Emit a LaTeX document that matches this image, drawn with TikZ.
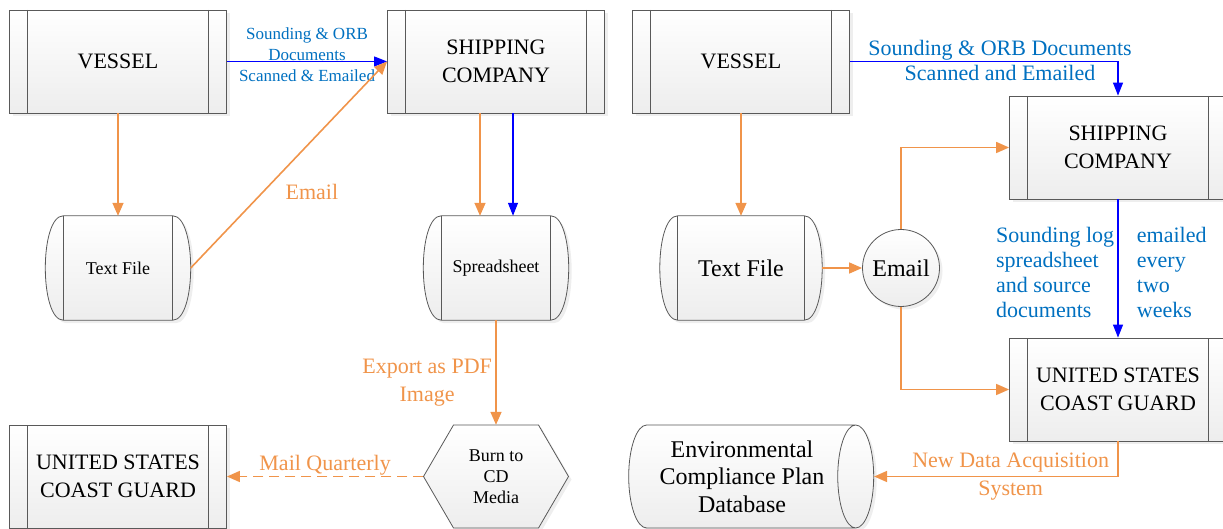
\documentclass[tikz,border=0pt]{standalone}
\usepackage{fontspec}
\setmainfont{Liberation Serif}
\usetikzlibrary{arrows.meta,shapes.geometric,shadows,backgrounds}
\definecolor{flowor}{RGB}{240,148,74}
\definecolor{docblue}{RGB}{0,112,192}
\tikzset{
  boxline/.style={draw=black!65,line width=0.8pt},
  shadefill/.style={top color=white,bottom color=black!7,drop shadow={shadow xshift=3pt,shadow yshift=-3pt,fill=black!13}},
  entity/.style={boxline,shadefill,rectangle,minimum width=217pt,minimum height=103pt,align=center,font=\fontsize{22}{28}\selectfont,
    path picture={\draw[boxline] ([xshift=18pt]path picture bounding box.north west) -- ([xshift=18pt]path picture bounding box.south west)
      ([xshift=-18pt]path picture bounding box.north east) -- ([xshift=-18pt]path picture bounding box.south east);}},
  holder/.style={rectangle,minimum height=104pt,align=center,inner sep=0pt},
  orarrow/.style={draw=flowor,line width=1.6pt,-{Triangle[length=13pt,width=11pt]}},
  bluearrow/.style={draw=blue,line width=1.1pt,-{Triangle[length=13pt,width=10pt]}},
  orlabel/.style={text=flowor,font=\fontsize{22}{28}\selectfont,align=center},
  bluelabel/.style={text=docblue,font=\fontsize{22}{25}\selectfont},
}
\newcommand\drumshape[1]{%
  \path[boxline,shadefill] ([xshift=18pt]#1.north west) -- ([xshift=-18pt]#1.north east)
    .. controls +(24,0) and +(24,0) .. ([xshift=-18pt]#1.south east) -- ([xshift=18pt]#1.south west)
    .. controls +(-24,0) and +(-24,0) .. cycle;
  \draw[boxline] ([xshift=18pt]#1.north west) -- ([xshift=18pt]#1.south west)
    ([xshift=-18pt]#1.north east) -- ([xshift=-18pt]#1.south east);}
\begin{document}
\begin{tikzpicture}[x=1pt,y=-1pt]
  \useasboundingbox (0,0) rectangle (1223,529);
  \node[entity] (v1) at (118,61.5) {VESSEL};
  \node[entity] (s1) at (496,61.5) {SHIPPING\\COMPANY};
  \node[holder,minimum width=145pt,font=\fontsize{18}{22}\selectfont] (tf1) at (118,268) {Text File};
  \node[holder,minimum width=145pt,font=\fontsize{18}{22}\selectfont] (ss1) at (496,268) {Spreadsheet};
  \node[holder,minimum width=145pt,minimum height=103pt,font=\fontsize{18}{21}\selectfont] (hx) at (496,476.5) {Burn to\\CD\\Media};
  \node[entity] (cg1) at (118,476.5) {UNITED STATES\\COAST GUARD};
  \node[entity] (v2) at (741,61.5) {VESSEL};
  \node[entity] (s2) at (1118,147.5) {SHIPPING\\COMPANY};
  \node[holder,minimum width=162pt,font=\fontsize{24}{28}\selectfont] (tf2) at (741,268) {Text File};
  \node[circle,boxline,shadefill,minimum size=77pt,inner sep=0pt,font=\fontsize{24}{28}\selectfont] (em) at (901,268) {Email};
  \node[entity] (cg2) at (1118,389.5) {UNITED STATES\\COAST GUARD};
  \node[cylinder,boxline,shadefill,minimum width=103pt,minimum height=245pt,aspect=0.5,inner sep=0pt,align=center,font=\fontsize{24}{27.5}\selectfont] (db) at (742,476.5) {Environmental\\Compliance Plan\\Database};
  \begin{scope}[on background layer]
    \drumshape{tf1}
    \drumshape{ss1}
    \drumshape{tf2}
    \path[boxline,shadefill] ([xshift=-72.5pt]hx.center) -- ++(30,-51.5) -- ++(85,0) -- ++(30,51.5) -- ++(-30,51.5) -- ++(-85,0) -- cycle;
  \end{scope}
  \draw[bluearrow] (v1.east) -- (s1.west) node[midway,yshift=6.5pt,bluelabel,font=\fontsize{17}{21}\selectfont,align=center] {Sounding \& ORB\\Documents\\Scanned \& Emailed};
  \draw[orarrow] (v1.south) -- (tf1.north);
  \draw[orarrow] (tf1.east) -- (s1.west) node[midway,xshift=23pt,yshift=-27pt,orlabel] {Email};
  \draw[orarrow] ([xshift=-16pt]s1.south) -- ([xshift=-16pt]ss1.north);
  \draw[bluearrow] ([xshift=17pt]s1.south) -- ([xshift=17pt]ss1.north);
  \draw[orarrow] (ss1.south) -- (hx.north) node[pos=0.6,left,orlabel] {Export as PDF\\Image};
  \draw[orarrow,dash pattern=on 10pt off 6pt] (hx.west) -- (cg1.east) node[midway,above,yshift=-3pt,orlabel] {Mail Quarterly};
  \draw[bluearrow] (v2.east) -| (s2.north) node[pos=0.28,yshift=1pt,bluelabel,align=center] {Sounding \& ORB Documents\\Scanned and Emailed};
  \draw[orarrow] (v2.south) -- (tf2.north);
  \draw[orarrow] (tf2.east) -- (em.west);
  \draw[orarrow] (em.north) |- (s2.west);
  \draw[orarrow] (em.south) |- (cg2.west);
  \draw[bluearrow] (s2.south) -- (cg2.north)
    node[midway,left,yshift=-4pt,bluelabel,align=left] {Sounding log\\spreadsheet\\and source\\documents}
    node[midway,right,xshift=15pt,yshift=-4pt,bluelabel,align=left] {emailed\\every\\two\\weeks};
  \draw[orarrow] (cg2.south) |- (db.east) node[pos=0.72,orlabel] {New Data Acquisition\\System};
\end{tikzpicture}
\end{document}
